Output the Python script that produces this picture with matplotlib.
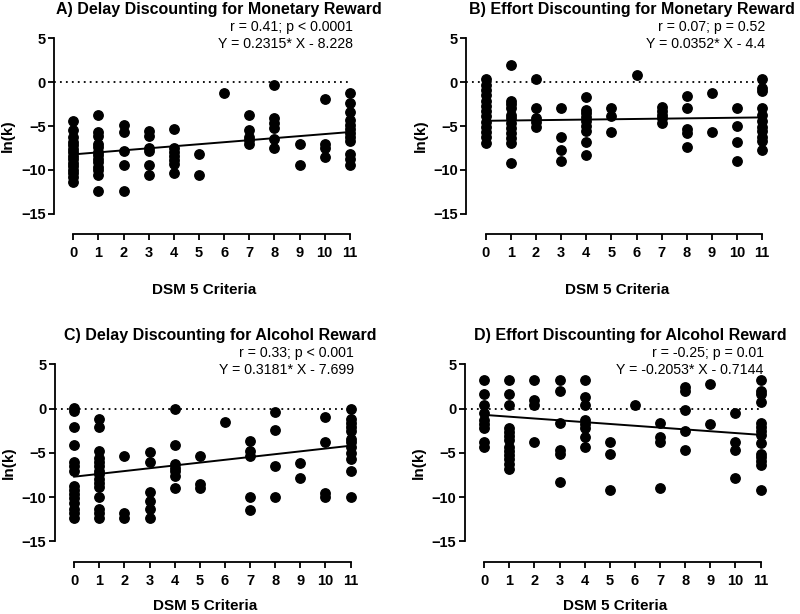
import matplotlib
matplotlib.use("Agg")
import matplotlib.pyplot as plt

plt.rcParams['font.family'] = ['Liberation Sans', 'DejaVu Sans']

# values per DSM 5 criteria count (0..11)
criteria = list(range(12))

delay_money = [
    [-4.4, -5.4, -6.3, -6.8, -7.2, -7.6, -8.0, -8.4, -8.8, -9.2, -9.6, -10.0, -10.4, -10.8, -11.4],
    [-3.75, -5.7, -6.1, -7.0, -7.4, -8.0, -8.3, -8.7, -9.1, -9.7, -10.0, -10.6, -12.35],
    [-4.85, -5.7, -7.85, -9.4, -12.35],
    [-5.6, -6.1, -7.5, -7.85, -9.4, -10.6],
    [-5.35, -7.5, -8.0, -8.45, -8.9, -9.35, -10.35],
    [-8.2, -10.6],
    [-1.25],
    [-3.75, -5.4, -6.3, -6.6, -7.0],
    [-0.35, -4.1, -4.7, -5.25, -6.45, -7.55],
    [-7.0, -9.4],
    [-1.95, -7.0, -7.45, -8.55],
    [-1.25, -2.35, -3.4, -4.35, -4.85, -5.3, -5.8, -6.25, -6.7, -8.15, -8.7, -9.4],
]

effort_money = [
    [0.35, -0.3, -0.9, -1.5, -2.1, -2.7, -3.3, -3.9, -4.5, -5.1, -5.7, -6.3, -6.9],
    [1.95, -2.1, -2.45, -2.95, -3.7, -4.1, -4.65, -5.2, -5.8, -6.35, -6.9, -9.2],
    [0.35, -2.9, -4.1, -4.55, -5.1],
    [-2.9, -6.3, -7.75, -9.0],
    [-1.65, -3.15, -3.5, -4.0, -4.45, -4.95, -5.6, -6.85, -8.25],
    [-2.9, -3.8, -5.7],
    [0.85],
    [-2.85, -3.25, -3.7, -4.1, -4.65],
    [-1.6, -2.9, -5.3, -5.8, -7.4],
    [-1.25, -5.7],
    [-2.9, -5.0, -6.85, -9.0],
    [0.35, -0.7, -1.05, -2.9, -3.7, -4.45, -5.05, -5.6, -6.2, -6.75, -7.75],
]

delay_alcohol = [
    [0.1, -0.25, -2.05, -4.1, -6.05, -6.5, -7.0, -8.8, -9.25, -9.7, -10.15, -10.7, -11.35, -11.8, -12.4],
    [-1.15, -2.05, -4.8, -5.55, -6.05, -6.5, -7.0, -7.45, -7.95, -8.4, -8.85, -10.0, -11.35, -11.8, -12.4],
    [-5.4, -11.8, -12.4],
    [-4.9, -6.05, -9.45, -10.4, -11.35, -12.4],
    [0.0, -4.1, -6.3, -6.7, -7.1, -7.6, -8.95],
    [-5.4, -8.55, -9.0],
    [-1.55],
    [-3.7, -4.8, -5.4, -10.0, -11.45],
    [-0.35, -2.4, -6.45, -10.0],
    [-6.1, -7.9],
    [-0.9, -3.75, -9.55, -10.0],
    [0.0, -1.15, -1.6, -2.05, -2.55, -3.4, -3.8, -4.3, -5.0, -5.65, -7.0, -10.0],
]

effort_alcohol = [
    [3.2, 1.6, 0.4, -0.5, -1.3, -1.8, -2.2, -3.8, -4.3],
    [3.2, 1.6, 0.4, -2.15, -2.6, -3.05, -3.5, -4.3, -4.8, -5.3, -5.7, -6.3, -6.8],
    [3.2, 0.95, 0.4, -3.75],
    [3.2, 1.95, -1.6, -4.7, -5.1, -8.25],
    [3.2, 1.25, 0.4, -1.3, -1.8, -2.2, -3.2, -4.3],
    [-3.75, -5.1, -9.2],
    [0.4],
    [-1.6, -3.2, -3.75, -9.0],
    [2.45, 1.95, -0.2, -2.5, -4.7],
    [2.8, -1.7],
    [-0.55, -3.75, -4.7, -7.8],
    [3.2, 2.0, 1.6, 0.75, -1.6, -2.05, -2.5, -3.0, -3.9, -5.1, -5.5, -5.9, -6.4, -9.2],
]

titles = ["A) Delay Discounting for Monetary Reward",
          "B) Effort Discounting for Monetary Reward",
          "C) Delay Discounting for Alcohol Reward",
          "D) Effort Discounting for Alcohol Reward"]
stats = ["r = 0.41; p < 0.0001", "r = 0.07; p = 0.52",
         "r = 0.33; p < 0.001", "r = -0.25; p = 0.01"]
equations = ["Y = 0.2315* X - 8.228", "Y = 0.0352* X - 4.4",
             "Y = 0.3181* X - 7.699", "Y = -0.2053* X - 0.7144"]
slopes = [0.2315, 0.0352, 0.3181, -0.2053]
intercepts = [-8.228, -4.4, -7.699, -0.7144]
panels = [delay_money, effort_money, delay_alcohol, effort_alcohol]

fig = plt.figure(figsize=(8, 6.14), dpi=100)

# axes boxes in figure fractions (left, bottom, width, height)
boxes = [(0.0675, 0.619, 0.376, 0.3185),
         (0.583, 0.619, 0.376, 0.3185),
         (0.0685, 0.0852, 0.376, 0.3215),
         (0.581, 0.0852, 0.376, 0.3215)]
xlabel_pads = [16, 16, 8, 8]

for i in range(4):
    ax = fig.add_axes(boxes[i])
    xs = []
    ys = []
    for c, vals in zip(criteria, panels[i]):
        xs += [c] * len(vals)
        ys += vals
    ax.scatter(xs, ys, s=46, color="black", zorder=3, clip_on=False)
    lx = [criteria[0], criteria[-1]]
    ly = [slopes[i] * x + intercepts[i] for x in lx]
    ax.plot(lx, ly, color="black", lw=1.4, zorder=4)
    ax.plot([-0.77, 11], [0, 0], color="black", lw=1.3,
            linestyle=(0, (1, 2.3)), zorder=2)

    ax.set_xlim(-0.77, 11.2)
    ax.set_ylim(-17.3, 5)
    ax.spines['top'].set_visible(False)
    ax.spines['right'].set_visible(False)
    ax.spines['left'].set_bounds(-15, 5)
    ax.spines['bottom'].set_bounds(0, 11)
    for s in ['left', 'bottom']:
        ax.spines[s].set_linewidth(1.3)
    ax.set_xticks(criteria)
    ax.set_yticks([5, 0, -5, -10, -15])
    ax.tick_params(axis='x', width=1.3, length=4, labelsize=10.5, pad=5)
    ax.tick_params(axis='y', width=1.3, length=4, labelsize=10.5, pad=2)
    for lab in ax.get_xticklabels() + ax.get_yticklabels():
        lab.set_fontweight("bold")
    ax.set_xlabel("DSM 5 Criteria", fontsize=11, fontweight="bold",
                  labelpad=xlabel_pads[i])
    ax.set_ylabel("ln(k)", fontsize=11, fontweight="bold", labelpad=4)

    ax.text(5.8, 8.25, titles[i], ha="center", va="center",
            fontsize=11.5, fontweight="bold")
    ax.text(11.13, 6.3, stats[i], ha="right", va="center", fontsize=10.2)
    ax.text(11.13, 4.4, equations[i], ha="right", va="center", fontsize=10.2)

fig.savefig("out.png", dpi=100)
